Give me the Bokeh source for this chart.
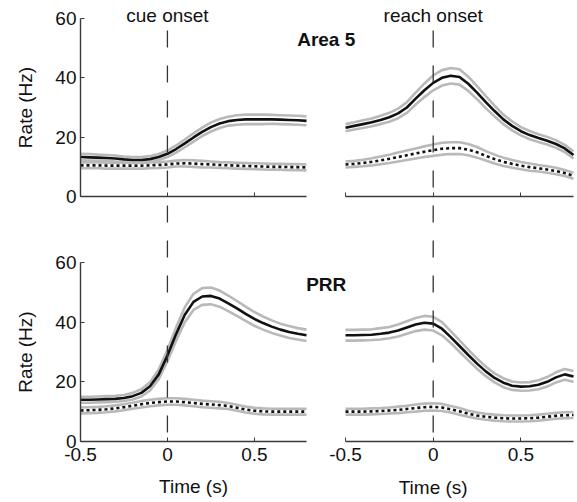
from bokeh.plotting import figure
from bokeh.models import LinearAxis, Range1d, Label, FixedTicker
from bokeh.embed import file_html
from bokeh.resources import INLINE

# ---------------- data ----------------
TIME = [-0.5, -0.45, -0.4, -0.35, -0.3, -0.25, -0.2, -0.15, -0.1, -0.05, 0.0,
        0.05, 0.1, 0.15, 0.2, 0.25, 0.3, 0.35, 0.4, 0.45, 0.5, 0.55, 0.6, 0.65,
        0.7, 0.75, 0.8]

A5_CUE_PREF = [13.3, 13.2, 13.1, 13.0, 12.8, 12.5, 12.3, 12.3, 12.6, 13.3, 14.4,
               16.0, 17.9, 19.9, 21.8, 23.4, 24.6, 25.4, 25.8, 26.0, 26.0, 26.0,
               26.0, 25.9, 25.8, 25.7, 25.5]
A5_CUE_PREF_SEM = [1.1, 1.1, 1.0, 1.0, 1.0, 1.0, 1.0, 1.0, 1.0, 1.0, 1.1, 1.2,
                   1.3, 1.4, 1.4, 1.5, 1.5, 1.5, 1.6, 1.6, 1.6, 1.6, 1.5, 1.5,
                   1.5, 1.5, 1.5]
A5_CUE_NULL = [10.5, 10.5, 10.5, 10.4, 10.4, 10.4, 10.4, 10.4, 10.5, 10.6, 10.8,
               11.1, 11.2, 11.1, 10.9, 10.8, 10.6, 10.5, 10.4, 10.3, 10.2, 10.1,
               10.0, 10.0, 9.9, 9.9, 9.8]
A5_CUE_NULL_SEM = [1.0, 1.0, 1.0, 1.0, 1.0, 1.0, 1.0, 1.0, 1.0, 1.0, 1.0, 1.0,
                   1.1, 1.1, 1.1, 1.0, 1.0, 1.0, 1.0, 1.0, 1.0, 1.0, 1.0, 1.0,
                   1.0, 1.0, 1.0]

A5_REACH_PREF = [23.2, 23.8, 24.4, 25.0, 25.8, 26.7, 28.0, 30.0, 33.0, 35.8, 38.3,
                 40.0, 40.7, 40.3, 38.0, 35.0, 31.8, 28.8, 26.0, 23.8, 22.0, 20.7,
                 19.7, 18.8, 17.7, 16.2, 14.0]
A5_REACH_PREF_SEM = [1.2, 1.2, 1.3, 1.3, 1.4, 1.5, 1.6, 1.8, 2.0, 2.3, 2.5, 2.6,
                     2.6, 2.6, 2.4, 2.2, 2.0, 1.8, 1.6, 1.5, 1.4, 1.4, 1.3, 1.3,
                     1.3, 1.2, 1.2]
A5_REACH_NULL = [10.8, 11.0, 11.3, 11.7, 12.2, 12.7, 13.3, 13.9, 14.5, 15.1, 15.6,
                 16.1, 16.3, 16.3, 15.8, 14.9, 13.7, 12.6, 11.7, 11.0, 10.4, 9.9,
                 9.5, 9.1, 8.6, 7.9, 7.0]
A5_REACH_NULL_SEM = [1.0, 1.0, 1.1, 1.2, 1.3, 1.4, 1.5, 1.6, 1.7, 1.8, 1.9, 2.0,
                     2.0, 2.0, 1.9, 1.8, 1.6, 1.5, 1.4, 1.3, 1.2, 1.2, 1.1, 1.1,
                     1.1, 1.0, 1.0]

PRR_CUE_PREF = [14.0, 14.0, 14.1, 14.2, 14.3, 14.6, 15.2, 16.3, 18.5, 22.5, 28.8,
                36.0, 42.5, 46.8, 48.6, 48.8, 47.9, 46.3, 44.6, 42.8, 41.1, 39.7,
                38.5, 37.5, 36.7, 36.1, 35.6]
PRR_CUE_PREF_SEM = [1.0, 1.0, 1.0, 1.0, 1.0, 1.0, 1.1, 1.2, 1.4, 1.6, 1.9, 2.2,
                    2.5, 2.7, 2.8, 2.8, 2.7, 2.6, 2.5, 2.4, 2.3, 2.2, 2.1, 2.0,
                    2.0, 1.9, 1.9]
PRR_CUE_NULL = [10.4, 10.5, 10.6, 10.8, 11.1, 11.5, 12.0, 12.5, 12.9, 13.2, 13.4,
                13.4, 13.2, 12.9, 12.6, 12.4, 12.2, 11.9, 11.3, 10.7, 10.3, 10.1,
                10.0, 10.0, 10.0, 10.0, 10.0]
PRR_CUE_NULL_SEM = [1.0, 1.0, 1.0, 1.0, 1.0, 1.0, 1.0, 1.1, 1.1, 1.1, 1.1, 1.1,
                    1.1, 1.1, 1.1, 1.1, 1.1, 1.0, 1.0, 1.0, 1.0, 1.0, 1.0, 1.0,
                    1.0, 1.0, 1.0]

PRR_REACH_PREF = [35.6, 35.6, 35.7, 35.8, 36.1, 36.5, 37.2, 38.2, 39.2, 39.8, 39.5,
                  37.8, 35.0, 32.0, 29.0, 26.1, 23.5, 21.3, 19.7, 18.7, 18.4, 18.5,
                  19.0, 20.0, 21.5, 22.5, 21.8]
PRR_REACH_PREF_SEM = [1.8, 1.8, 1.8, 1.8, 1.9, 1.9, 2.0, 2.1, 2.2, 2.3, 2.3, 2.2,
                      2.0, 1.9, 1.8, 1.7, 1.6, 1.5, 1.5, 1.4, 1.4, 1.4, 1.5, 1.6,
                      1.7, 1.8, 1.8]
PRR_REACH_NULL = [10.0, 10.0, 10.0, 10.1, 10.2, 10.4, 10.6, 10.9, 11.2, 11.5, 11.6,
                  11.4, 10.8, 10.1, 9.3, 8.7, 8.3, 8.0, 7.8, 7.7, 7.7, 7.8, 8.0,
                  8.3, 8.6, 8.8, 8.9]
PRR_REACH_NULL_SEM = [1.0, 1.0, 1.0, 1.0, 1.0, 1.0, 1.1, 1.1, 1.2, 1.2, 1.2, 1.2,
                      1.1, 1.1, 1.0, 1.0, 1.0, 1.0, 1.0, 1.0, 1.0, 1.0, 1.0, 1.0,
                      1.0, 1.0, 1.0]

X_TICKS = [-0.5, 0, 0.5]
X_TICK_LABELS = ["-0.5", "0", "0.5"]
Y_TICKS = [0, 20, 40, 60]
X_LIM = (-0.5, 0.8)
Y_LIM = (0, 60)
COLUMN_TITLES = ["cue onset", "reach onset"]
AREA_NAMES = ["Area 5", "PRR"]

# ---------------- layout (pixels) ----------------
W, H = 577, 502
COL_PX = {"L": (80, 306), "R": (345, 573)}   # pixel x of X_LIM ends
ROW_PX = {"T": (196, 18), "B": (441, 262)}   # pixel y of Y_LIM ends
DASH_TOP_PX = 30                              # where the onset lines start

FONT = "Liberation Sans"
GRAY = "#b9b9b9"
INK = "#111111"
AXIS_COLOR = "#3a3a3a"


def x_scale(col):
    a, b = COL_PX[col]
    return a, (b - a) / (X_LIM[1] - X_LIM[0])


def y_scale(row):
    p0, p1 = ROW_PX[row]
    return p0, (p0 - p1) / (Y_LIM[1] - Y_LIM[0])


def x_range_for(col):
    a, s = x_scale(col)
    return Range1d(X_LIM[0] - a / s, X_LIM[0] + (W - a) / s)


def y_range_for(row):
    p0, s = y_scale(row)
    return Range1d(Y_LIM[0] - (H - p0) / s, Y_LIM[0] + p0 / s)


def y_value_at(row, px):
    p0, s = y_scale(row)
    return Y_LIM[0] + (p0 - px) / s


p = figure(width=W, height=H, output_backend="svg", toolbar_location=None,
           x_axis_location=None, y_axis_location=None, title=None,
           x_range=x_range_for("L"), y_range=y_range_for("B"), min_border=0)
p.extra_x_ranges = {"R": x_range_for("R")}
p.extra_y_ranges = {"T": y_range_for("T")}
p.outline_line_color = None
p.grid.visible = False
p.background_fill_color = "white"
p.border_fill_color = "white"

XN = {"L": "default", "R": "R"}
YN = {"T": "T", "B": "default"}

panels = [
    ("L", "T", A5_CUE_PREF, A5_CUE_PREF_SEM, A5_CUE_NULL, A5_CUE_NULL_SEM),
    ("R", "T", A5_REACH_PREF, A5_REACH_PREF_SEM, A5_REACH_NULL, A5_REACH_NULL_SEM),
    ("L", "B", PRR_CUE_PREF, PRR_CUE_PREF_SEM, PRR_CUE_NULL, PRR_CUE_NULL_SEM),
    ("R", "B", PRR_REACH_PREF, PRR_REACH_PREF_SEM, PRR_REACH_NULL, PRR_REACH_NULL_SEM),
]

for col, row, pref, pref_sem, null, null_sem in panels:
    kw = dict(x_range_name=XN[col], y_range_name=YN[row])
    for mean, sem, dash in [(null, null_sem, "3 3"), (pref, pref_sem, "solid")]:
        up = [m + s for m, s in zip(mean, sem)]
        lo = [m - s for m, s in zip(mean, sem)]
        p.line(TIME, up, line_color=GRAY, line_width=2.6, **kw)
        p.line(TIME, lo, line_color=GRAY, line_width=2.6, **kw)
        p.line(TIME, mean, line_color=INK, line_width=2.6, line_dash=dash, **kw)

# onset markers: one dashed line per column, from above the top row down to 0 of the bottom row
for col in ["L", "R"]:
    p.segment(x0=[0], y0=[y_value_at("B", DASH_TOP_PX)], x1=[0], y1=[Y_LIM[0]],
              x_range_name=XN[col], line_color="#333333", line_width=1.3,
              line_dash="17 18")


def style_axis(ax):
    ax.axis_line_color = AXIS_COLOR
    ax.axis_line_width = 1.4
    ax.major_tick_line_color = AXIS_COLOR
    ax.major_tick_in = 4
    ax.major_tick_out = 0
    ax.minor_tick_line_color = None
    ax.major_label_text_font = FONT
    ax.major_label_text_font_size = "19px"
    ax.major_label_text_color = "#111111"
    ax.axis_label_text_font = FONT
    ax.axis_label_text_font_size = "19px"
    ax.axis_label_text_font_style = "normal"
    ax.axis_label_text_color = "#111111"


# y axes (left column only)
for row in ["T", "B"]:
    ax = LinearAxis(x_range_name="default", y_range_name=YN[row],
                    fixed_location=X_LIM[0], bounds=Y_LIM,
                    ticker=FixedTicker(ticks=Y_TICKS), axis_label="Rate (Hz)")
    style_axis(ax)
    ax.major_label_standoff = 4
    ax.axis_label_standoff = 16
    p.add_layout(ax, "left")

# x axes (all panels, tick labels only on the bottom row)
for col, row, *_ in panels:
    ax = LinearAxis(x_range_name=XN[col], y_range_name=YN[row],
                    fixed_location=Y_LIM[0], bounds=X_LIM,
                    ticker=FixedTicker(ticks=X_TICKS),
                    axis_label="Time (s)" if (row == "B" and col == "L") else None)
    style_axis(ax)
    ax.major_label_standoff = 6
    ax.axis_label_standoff = 12
    if row == "T":
        ax.major_label_overrides = {t: "" for t in X_TICKS}
    else:
        ax.major_label_overrides = dict(zip(X_TICKS, X_TICK_LABELS))
    p.add_layout(ax, "below")

# right column x label is centred on the onset, not on the axis
p.add_layout(Label(x=0, y=y_value_at("B", 487), x_range_name="R", text="Time (s)",
                   text_align="center", text_baseline="middle",
                   text_font=FONT, text_font_size="19px", text_color="#111111"))

# column titles
for col, title in zip(["L", "R"], COLUMN_TITLES):
    p.add_layout(Label(x=0, y=y_value_at("T", 15), x_range_name=XN[col], y_range_name="T",
                       text=title, text_align="center", text_baseline="middle",
                       text_font=FONT, text_font_size="19px", text_color="#111111"))

# area names
for row, name, ypx in zip(["T", "B"], AREA_NAMES, [38.5, 283.5]):
    p.add_layout(Label(x=-0.61, y=y_value_at(row, ypx), x_range_name="R",
                       y_range_name=YN[row], text=name, text_align="center",
                       text_baseline="middle", text_font=FONT, text_font_size="19px",
                       text_font_style="bold", text_color="#111111"))

open("out.html", "w").write(file_html(p, INLINE))
